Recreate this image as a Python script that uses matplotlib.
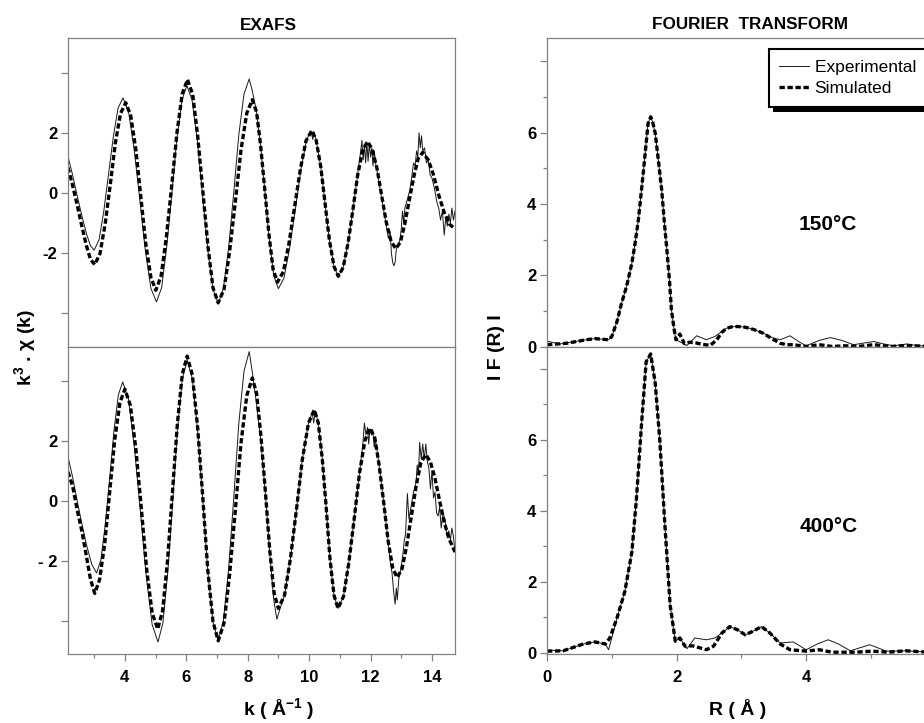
import matplotlib
matplotlib.use("Agg")
import matplotlib.pyplot as plt
from matplotlib.lines import Line2D
from matplotlib.patches import Rectangle
from matplotlib.transforms import IdentityTransform

plt.rcParams.update({
    "font.family": ["Liberation Sans", "DejaVu Sans"],
    "font.weight": "bold",
    "mathtext.fontset": "custom",
    "mathtext.rm": "Liberation Sans:bold",
    "mathtext.bf": "Liberation Sans:bold",
    "mathtext.it": "Liberation Sans:bold",
})

# ---- EXAFS, 150 C (top) ----
k_top_sim = [2.15, 2.3, 2.45, 2.6, 2.75, 2.88, 3.02, 3.19, 3.36, 3.53, 3.69, 3.86, 4.03,
             4.19, 4.36, 4.52, 4.68, 4.85, 5.01, 5.18, 5.35, 5.53, 5.70, 5.87, 6.04,
             6.21, 6.37, 6.54, 6.71, 6.87, 7.04, 7.23, 7.41, 7.60, 7.78, 7.97, 8.15,
             8.29, 8.42, 8.56, 8.70, 8.83, 8.97, 9.16, 9.34, 9.53, 9.72, 9.90, 10.09,
             10.23, 10.38, 10.52, 10.66, 10.81, 10.95, 11.11, 11.27, 11.43, 11.58, 11.74, 11.90,
             12.05, 12.21, 12.36, 12.51, 12.67, 12.82, 12.97, 13.11, 13.26, 13.41, 13.55, 13.70,
             13.88, 14.05, 14.23, 14.40, 14.58, 14.75]
chi_top_sim = [0.85, 0.25, -0.4, -1.1, -1.75, -2.2, -2.38, -2.02, -1.03, 0.31, 1.65, 2.64, 3.0,
               2.58, 1.44, -0.12, -1.67, -2.81, -3.23, -2.76, -1.48, 0.27, 2.02, 3.3, 3.77,
               3.27, 1.92, 0.06, -1.8, -3.15, -3.65, -3.2, -1.96, -0.28, 1.41, 2.65, 3.1,
               2.69, 1.59, 0.07, -1.45, -2.55, -2.96, -2.62, -1.70, -0.44, 0.82, 1.74, 2.08,
               1.75, 0.87, -0.35, -1.56, -2.44, -2.77, -2.47, -1.65, -0.53, 0.59, 1.41, 1.71,
               1.47, 0.82, -0.07, -0.96, -1.61, -1.85, -1.64, -1.05, -0.25, 0.55, 1.14, 1.35,
               1.1, 0.6, -0.1, -0.65, -1.05, -1.18]
k_top_exp = [2.15, 2.3, 2.45, 2.6, 2.75, 2.88, 3.0, 3.16, 3.31, 3.47, 3.63, 3.78, 3.94,
             4.12, 4.30, 4.49, 4.67, 4.85, 5.03, 5.20, 5.36, 5.53, 5.69, 5.86, 6.02,
             6.19, 6.36, 6.53, 6.70, 6.87, 7.04, 7.21, 7.38, 7.55, 7.71, 7.88, 8.05,
             8.15, 8.28, 8.42, 8.56, 8.70, 8.85, 9.0, 9.18, 9.36, 9.55, 9.73, 9.91,
             10.0, 10.06, 10.12, 10.16, 10.23, 10.38, 10.52, 10.66, 10.81, 10.95,
             11.11, 11.27, 11.43, 11.58, 11.68, 11.72, 11.76, 11.80, 11.84, 11.88, 11.92,
             11.96, 12.0, 12.04, 12.08, 12.12, 12.17, 12.22, 12.3, 12.4, 12.5, 12.58,
             12.64, 12.68, 12.72, 12.76, 12.8, 12.84, 12.9, 12.96, 13.0, 13.04, 13.08,
             13.12, 13.2, 13.28, 13.35, 13.4, 13.45, 13.5, 13.54, 13.58, 13.62, 13.66,
             13.7, 13.76, 13.82, 13.88, 13.94, 14.0, 14.08, 14.16, 14.22, 14.28, 14.34,
             14.4, 14.45, 14.5, 14.55, 14.6, 14.65, 14.7, 14.75]
chi_top_exp = [1.21, 0.6, -0.1, -0.75, -1.35, -1.75, -1.9, -1.56, -0.64, 0.63, 1.90, 2.82, 3.16,
               2.71, 1.47, -0.23, -1.93, -3.17, -3.62, -3.14, -1.82, -0.03, 1.77, 3.09, 3.57,
               3.08, 1.76, -0.06, -1.87, -3.19, -3.68, -3.18, -1.81, 0.06, 1.92, 3.29, 3.79,
               3.4, 2.75, 1.6, 0.05, -1.5, -2.75, -3.18, -2.83, -1.87, -0.55, 0.77, 1.73,
               1.95, 2.06, 1.78, 2.02, 1.75, 0.87, -0.35, -1.56, -2.44, -2.77,
               -2.47, -1.65, -0.53, 0.6, 1.4, 1.75, 1.1, 1.6, 1.0, 1.7, 1.05,
               1.65, 1.2, 1.5, 0.9, 1.4, 0.95, 0.7, 0.2, -0.4, -1.0, -1.5,
               -1.3, -2.0, -2.3, -2.42, -2.3, -1.85, -1.75, -1.55, -1.2, -0.6, -1.0,
               -0.5, -0.2, 0.1, 0.6, 1.0, 0.9, 1.4, 1.2, 2.0, 1.5, 1.9,
               1.4, 1.5, 1.0, 1.1, 0.6, 0.5, 0.15, -0.3, -0.5, -0.9, -0.6,
               -1.4, -0.8, -1.1, -0.7, -1.0, -0.5, -0.9, -0.6]

# ---- EXAFS, 400 C (bottom) ----
k_bot_sim = [2.15, 2.3, 2.45, 2.6, 2.75, 2.88, 3.02, 3.18, 3.35, 3.51, 3.67, 3.84, 4.0,
             4.18, 4.36, 4.54, 4.71, 4.89, 5.07, 5.23, 5.39, 5.55, 5.71, 5.87, 6.03,
             6.20, 6.37, 6.54, 6.70, 6.87, 7.04, 7.23, 7.41, 7.60, 7.78, 7.97, 8.15,
             8.29, 8.43, 8.58, 8.72, 8.86, 9.0, 9.20, 9.39, 9.59, 9.78, 9.98, 10.17,
             10.30, 10.43, 10.56, 10.68, 10.81, 10.94, 11.12, 11.29, 11.47, 11.64, 11.82, 11.99,
             12.14, 12.28, 12.43, 12.57, 12.72, 12.86, 13.02, 13.17, 13.33, 13.49, 13.64, 13.8,
             13.95, 14.1, 14.25, 14.4, 14.55, 14.75]
chi_bot_sim = [0.97, 0.5, -0.3, -1.0, -1.84, -2.6, -3.08, -2.62, -1.38, 0.33, 2.03, 3.27, 3.73,
               3.19, 1.73, -0.27, -2.27, -3.73, -4.27, -3.66, -1.99, 0.28, 2.56, 4.22, 4.83,
               4.19, 2.46, 0.09, -2.29, -4.02, -4.66, -4.07, -2.47, -0.28, 1.91, 3.51, 4.1,
               3.59, 2.18, 0.26, -1.66, -3.07, -3.58, -3.14, -1.93, -0.27, 1.39, 2.6, 3.04,
               2.6, 1.39, -0.27, -1.93, -3.14, -3.58, -3.18, -2.08, -0.58, 0.93, 2.03, 2.43,
               2.1, 1.19, -0.06, -1.31, -2.22, -2.55, -2.28, -1.53, -0.5, 0.53, 1.28, 1.55,
               1.3, 0.75, 0.0, -0.7, -1.25, -1.7]
k_bot_exp = [2.15, 2.3, 2.45, 2.6, 2.75, 2.92, 3.08, 3.22, 3.36, 3.51, 3.65, 3.79, 3.93,
             4.12, 4.31, 4.51, 4.70, 4.89, 5.08, 5.24, 5.40, 5.56, 5.71, 5.87, 6.03,
             6.20, 6.37, 6.54, 6.70, 6.87, 7.04, 7.21, 7.38, 7.55, 7.71, 7.88, 8.05,
             8.15, 8.28, 8.43, 8.58, 8.72, 8.85, 8.95, 9.05, 9.2, 9.39, 9.59, 9.78, 9.98,
             10.1, 10.15, 10.2, 10.30, 10.43, 10.56, 10.68, 10.81, 10.94,
             11.12, 11.29, 11.47, 11.64, 11.75, 11.8, 11.85, 11.9, 11.94, 11.98, 12.03,
             12.08, 12.12, 12.16, 12.28, 12.43, 12.57, 12.65, 12.7, 12.75, 12.8, 12.84,
             12.87, 12.92, 12.98, 13.05, 13.1, 13.14, 13.2, 13.25, 13.3, 13.4, 13.48,
             13.52, 13.56, 13.6, 13.65, 13.7, 13.75, 13.8, 13.85, 13.9, 13.95, 14.0,
             14.05, 14.1, 14.15, 14.2, 14.25, 14.3, 14.36, 14.42, 14.48, 14.55, 14.6,
             14.65, 14.7, 14.75]
chi_bot_exp = [1.47, 0.8, 0.0, -0.75, -1.45, -2.1, -2.4, -1.97, -0.81, 0.79, 2.38, 3.54, 3.97,
               3.39, 1.80, -0.37, -2.53, -4.12, -4.7, -4.07, -2.35, 0.0, 2.35, 4.07, 4.7,
               4.07, 2.36, 0.02, -2.32, -4.03, -4.66, -4.01, -2.25, 0.16, 2.57, 4.33, 4.98,
               4.3, 3.3, 2.0, 0.2, -1.75, -3.3, -3.94, -3.6, -3.14, -1.93, -0.27, 1.39, 2.6,
               2.95, 2.6, 3.0, 2.6, 1.39, -0.27, -1.93, -3.14, -3.58,
               -3.18, -2.08, -0.58, 0.93, 1.9, 2.6, 2.2, 2.45, 1.9, 2.4, 2.2,
               2.3, 1.8, 2.05, 1.19, -0.06, -1.31, -2.1, -2.4, -3.0, -3.44, -2.9,
               -3.3, -2.6, -2.3, -1.8, -1.3, -1.1, 0.25, -0.6, -0.3, 0.3, 0.6,
               1.2, 0.9, 1.95, 1.4, 1.9, 1.4, 1.9, 1.3, 1.1, 0.4, 1.0,
               0.1, 0.3, -0.4, -0.5, -0.2, -0.9, -0.4, -0.6, -1.1, -1.0, -1.3,
               -0.9, -1.2, -1.7]

# ---- Fourier transform, 150 C (top) ----
r_top_sim = [0.0, 0.3, 0.61, 0.74, 0.95, 1.0, 1.08, 1.15, 1.23, 1.31, 1.36, 1.41, 1.45,
             1.49, 1.53, 1.56, 1.6, 1.63, 1.67, 1.72, 1.77, 1.81, 1.85, 1.89, 1.92, 1.96,
             1.99, 2.05, 2.12, 2.2, 2.3, 2.4, 2.52, 2.62, 2.7, 2.77, 2.85, 2.93, 3.03,
             3.13, 3.23, 3.34, 3.47, 3.6, 3.7, 3.8, 4.0, 4.2, 4.4, 4.6, 4.8, 5.04, 5.3,
             5.55, 5.9]
ft_top_sim = [0.05, 0.09, 0.19, 0.22, 0.19, 0.28, 0.7, 1.21, 1.7, 2.34, 2.9, 3.55, 4.25,
              4.95, 5.7, 6.26, 6.44, 6.3, 5.98, 5.2, 4.39, 3.5, 2.71, 1.85, 1.03, 0.5,
              0.19, 0.35, 0.08, 0.12, 0.1, 0.06, 0.03, 0.19, 0.4, 0.51, 0.55, 0.56, 0.55,
              0.51, 0.45, 0.37, 0.22, 0.09, 0.05, 0.05, 0.0, 0.05, 0.0, 0.02, 0.0, 0.05, 0.0,
              0.03, 0.0]
r_top_exp = [0.0, 0.2, 0.61, 0.74, 0.95, 1.0, 1.08, 1.15, 1.23, 1.31, 1.36, 1.41, 1.45,
             1.49, 1.53, 1.56, 1.6, 1.63, 1.67, 1.72, 1.77, 1.81, 1.85, 1.89, 1.92, 1.96,
             1.99, 2.16, 2.31, 2.46, 2.59, 2.7, 2.77, 2.85, 2.93, 3.03, 3.13, 3.23, 3.34,
             3.47, 3.6, 3.75, 3.9, 4.0, 4.2, 4.37, 4.55, 4.73, 4.9, 5.04, 5.2, 5.35, 5.55,
             5.7, 5.9]
ft_top_exp = [0.15, 0.07, 0.19, 0.22, 0.19, 0.28, 0.7, 1.21, 1.7, 2.34, 2.9, 3.55, 4.25,
              4.95, 5.7, 6.26, 6.44, 6.3, 5.98, 5.2, 4.39, 3.5, 2.71, 1.85, 1.03, 0.5,
              0.19, 0.03, 0.30, 0.19, 0.28, 0.42, 0.51, 0.55, 0.56, 0.55, 0.51, 0.45, 0.37,
              0.25, 0.19, 0.30, 0.12, 0.02, 0.17, 0.25, 0.17, 0.05, 0.1, 0.14, 0.07, 0.02, 0.07,
              0.03, 0.0]

# ---- Fourier transform, 400 C (bottom) ----
r_bot_sim = [0.0, 0.25, 0.56, 0.74, 0.9, 0.97, 1.08, 1.2, 1.31, 1.38, 1.46, 1.53, 1.6,
             1.67, 1.74, 1.82, 1.9, 1.98, 2.05, 2.13, 2.25, 2.46, 2.57, 2.7, 2.82, 2.94,
             3.06, 3.19, 3.31, 3.44, 3.6, 3.75, 4.0, 4.2, 4.4, 4.76, 5.02, 5.27, 5.53, 5.9]
ft_bot_sim = [0.05, 0.06, 0.25, 0.31, 0.25, 0.42, 0.98, 1.72, 2.84, 4.33, 6.47, 8.19, 8.41,
              7.59, 6.0, 3.58, 1.35, 0.33, 0.42, 0.19, 0.2, 0.09, 0.19, 0.56, 0.74, 0.65,
              0.51, 0.62, 0.74, 0.56, 0.25, 0.09, 0.05, 0.09, 0.02, 0.02, 0.05, 0.02, 0.06, 0.02]
r_bot_exp = [0.0, 0.25, 0.56, 0.74, 0.9, 0.95, 1.0, 1.08, 1.2, 1.31, 1.38, 1.46, 1.53, 1.6,
             1.67, 1.74, 1.82, 1.9, 1.98, 2.05, 2.16, 2.28, 2.46, 2.59, 2.7, 2.82, 2.94,
             3.06, 3.19, 3.31, 3.44, 3.6, 3.8, 4.0, 4.17, 4.34, 4.5, 4.68, 4.98, 5.24,
             5.53, 5.9]
ft_bot_exp = [0.08, 0.06, 0.25, 0.31, 0.25, 0.09, 0.42, 0.98, 1.72, 2.84, 4.33, 6.47, 8.19,
              8.41, 7.59, 6.0, 3.58, 1.35, 0.33, 0.42, 0.12, 0.42, 0.37, 0.42, 0.56, 0.74,
              0.65, 0.51, 0.62, 0.74, 0.56, 0.28, 0.31, 0.09, 0.25, 0.37, 0.25, 0.06, 0.23,
              0.05, 0.06, 0.02]

legend_labels = ["Experimental  ", "Simulated"]

GRAY = "#808080"
W, H = 924, 723
exp_style = dict(color="#1a1a1a", lw=0.7)
sim_style = dict(color="k", lw=2.4, linestyle=(0, (1.6, 0.8)))

fig = plt.figure(figsize=(W / 100, H / 100), dpi=100)
ax_k1 = fig.add_axes([68 / W, 1 - 346.5 / H, 387 / W, 308.5 / H])
ax_k2 = fig.add_axes([68 / W, 1 - 654 / H, 387 / W, 307.5 / H])
ax_r1 = fig.add_axes([547 / W, 1 - 346.5 / H, 382 / W, 308.5 / H])
ax_r2 = fig.add_axes([547 / W, 1 - 654 / H, 382 / W, 307.5 / H])


def style(ax, bottom):
    for s in ax.spines.values():
        s.set_color(GRAY)
        s.set_linewidth(0.9)
    ax.tick_params(which="major", direction="out", color=GRAY, length=5.2, width=0.9,
                   labelsize=12, pad=2.5)
    ax.tick_params(which="minor", direction="out", color=GRAY, length=3, width=0.9)
    if bottom:
        ax.tick_params(axis="x", which="both", pad=6)
    else:
        ax.tick_params(axis="x", which="both", bottom=False, labelbottom=False)


for ax, ks, vs, ke, ve in [(ax_k1, k_top_sim, chi_top_sim, k_top_exp, chi_top_exp),
                           (ax_k2, k_bot_sim, chi_bot_sim, k_bot_exp, chi_bot_exp)]:
    ax.plot(ke, ve, **exp_style)
    ax.plot(ks, vs, **sim_style)
    ax.set_xlim(2.15, 14.75)
    ax.set_ylim(-5.1, 5.15)
    ax.set_yticks([-4, -2, 0, 2, 4])
    ax.set_xticks([4, 6, 8, 10, 12, 14])
    ax.set_xticks([3, 5, 7, 9, 11, 13], minor=True)

ax_k1.set_yticklabels(["", "-2", "0", "2", ""])
ax_k2.set_yticklabels(["", "- 2", "0", "2", ""])

for ax, rs, fs, re_, fe in [(ax_r1, r_top_sim, ft_top_sim, r_top_exp, ft_top_exp),
                            (ax_r2, r_bot_sim, ft_bot_sim, r_bot_exp, ft_bot_exp)]:
    ax.plot(re_, fe, **exp_style)
    ax.plot(rs, fs, **sim_style)
    ax.set_xlim(0, 5.895)
    ax.set_yticks([0, 2, 4, 6, 8])
    ax.set_yticklabels(["0", "2", "4", "6", ""])
    ax.set_yticks([1, 3, 5, 7], minor=True)
    ax.set_xticks([0, 2, 4])
    ax.set_xticks([1, 3, 5], minor=True)

ax_r1.set_ylim(0, 8.65)
ax_r2.set_ylim(-0.03, 8.62)

style(ax_k1, False)
style(ax_k2, True)
style(ax_r1, False)
style(ax_r2, True)

handles = [Line2D([], [], **exp_style), Line2D([], [], **sim_style)]
leg = ax_r1.legend(handles, legend_labels, loc="upper left",
                   bbox_to_anchor=(0.58, 0.964), borderaxespad=0, fancybox=False,
                   edgecolor="k", framealpha=1,
                   prop={"weight": "normal", "size": 12.5}, handlelength=1.75,
                   handletextpad=0.3, borderpad=0.6, labelspacing=0.38)
leg.get_frame().set_linewidth(1.5)

# black drop shadow under the legend box
fig.canvas.draw()
bb = leg.get_frame().get_window_extent(fig.canvas.get_renderer())
shadow = Rectangle((bb.x0 + 4, bb.y0 - 5), bb.width, bb.height, transform=IdentityTransform(),
                   facecolor="k", edgecolor="none", zorder=leg.get_zorder() - 0.1,
                   clip_on=False)
ax_r1.add_artist(shadow)

fig.text(268 / W, 1 - 29.5 / H, "EXAFS", ha="center", va="baseline", fontsize=12.3)
fig.text(750.5 / W, 1 - 29 / H, "FOURIER  TRANSFORM", ha="center", va="baseline",
         fontsize=12.3)
fig.text(279 / W, 1 - 715 / H, r"k ( Å$^{-1}$ )", ha="center", va="baseline", fontsize=14)
fig.text(738 / W, 1 - 715 / H, "R ( Å )", ha="center", va="baseline", fontsize=14)
fig.text(25 / W, 1 - 348 / H, r"k$^{3}$ . χ (k)", rotation=90, ha="center", va="center",
         fontsize=14)
fig.text(497 / W, 1 - 347 / H, "I F (R) I", rotation=90, ha="center", va="center",
         fontsize=14)
fig.text(827.5 / W, 1 - 230 / H, "150°C", ha="center", va="baseline", fontsize=15)
fig.text(828.3 / W, 1 - 531.7 / H, "400°C", ha="center", va="baseline", fontsize=15)

fig.savefig("out.png", dpi=100)
